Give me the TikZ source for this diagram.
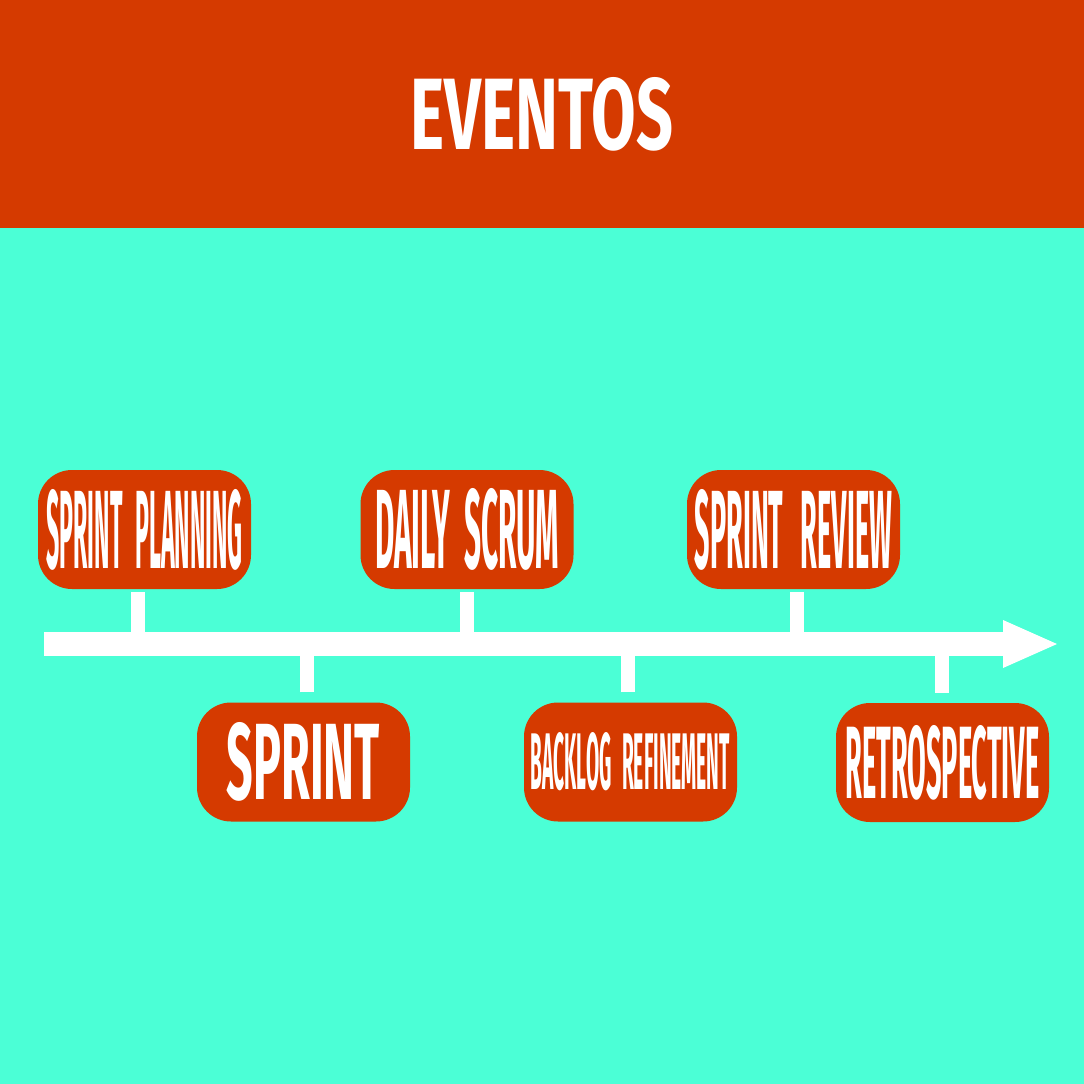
\documentclass[tikz,border=0pt]{standalone}
\usepackage{fontspec}
\setmainfont{Fira Sans}
\definecolor{orng}{RGB}{213,58,0}
\definecolor{turq}{RGB}{75,255,214}
\newcommand{\wsp}{\hspace{0.55em}}
\begin{document}
\begin{tikzpicture}[x=1pt,y=-1pt,
  evbox/.style={fill=orng, rounded corners=34pt, minimum width=213pt,
    minimum height=119pt, inner sep=0pt, text=white, font=\bfseries},
  tickline/.style={draw=white, line width=14pt},
  barline/.style={draw=white, line width=24pt}]
\useasboundingbox (0,0) rectangle (1084,1084);
\fill[turq] (0,0) rectangle (1084,1084);
\fill[orng] (0,0) rectangle (1084,228);
\node[text=white, inner sep=0pt, font=\bfseries] (title) at (542,114)
  {\resizebox{262pt}{72pt}{EVENTOS}};
% timeline
\coordinate (barL) at (44,644);
\coordinate (barR) at (1004,644);
\coordinate (tip) at (1057,644);
\coordinate (headT) at (1003,620);
\coordinate (headB) at (1003,668);
\draw[barline] (barL) -- (barR);
\fill[white] (headT) -- (tip) -- (headB) -- cycle;
% boxes
\node[evbox] (plan) at (144.5,529.5) {\resizebox{196pt}{79pt}{SPRINT\wsp PLANNING}};
\node[evbox] (daily) at (467,529.5) {\resizebox{184pt}{80pt}{DAILY\hspace{0.45em}SCRUM}};
\node[evbox] (review) at (793.5,529.5) {\resizebox{197pt}{79pt}{SPRINT\hspace{0.65em}REVIEW}};
\node[evbox] (sprint) at (303.5,762) {\resizebox{153pt}{77pt}{SPRINT}};
\node[evbox] (backlog) at (630.5,762) {\resizebox{199pt}{57pt}{BACKLOG\wsp REFINEMENT}};
\node[evbox] (retro) at (942.5,762.5) {\resizebox{194pt}{73pt}{RETROSPECTIVE}};
% ticks
\draw[tickline] ([xshift=-6.5pt,yshift=-3pt]plan.south) -- ([xshift=-6.5pt]plan.south |- barL);
\draw[tickline] ([yshift=-3pt]daily.south) -- (daily.south |- barL);
\draw[tickline] ([xshift=3pt,yshift=-3pt]review.south) -- ([xshift=3pt]review.south |- barL);
\draw[tickline] ([xshift=3pt,yshift=10pt]sprint.north) -- ([xshift=3pt]sprint.north |- barL);
\draw[tickline] ([xshift=-2.5pt,yshift=10pt]backlog.north) -- ([xshift=-2.5pt]backlog.north |- barL);
\draw[tickline] ([xshift=-1pt,yshift=10pt]retro.north) -- ([xshift=-1pt]retro.north |- barL);
\end{tikzpicture}
\end{document}
